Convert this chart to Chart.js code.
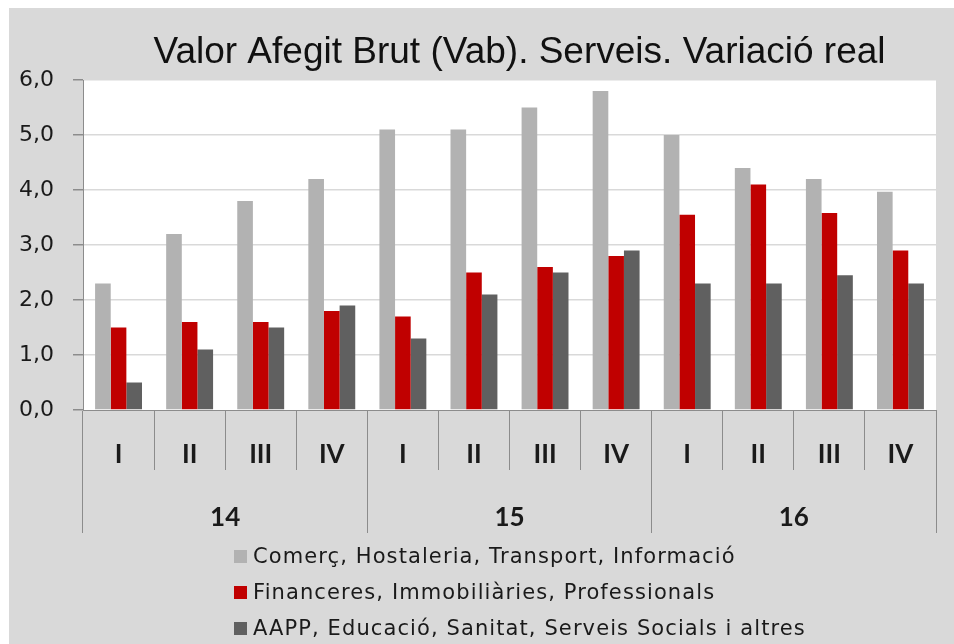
<!DOCTYPE html>
<html>
<head>
<meta charset="utf-8">
<script src="https://cdn.jsdelivr.net/npm/chart.js@4/dist/chart.umd.min.js"></script>
<style>
  html, body { margin: 0; padding: 0; background: #fff; }
  #frame {
    position: absolute; left: 9px; top: 8px; width: 945px; height: 636px;
    background: #d9d9d9; overflow: hidden;
  }
  #frame canvas { position: absolute; left: 0; top: 0; }
  #legend {
    position: absolute; left: 225px; top: 530px; margin: 0; padding: 0;
    list-style: none; font-family: "DejaVu Sans", sans-serif; font-size: 21px;
    letter-spacing: 1.1px; color: #1a1a1a;
  }
  #legend li { height: 36px; line-height: 36px; white-space: nowrap; }
  #legend span.box {
    display: inline-block; width: 13px; height: 13px; margin-right: 6px;
    vertical-align: middle; position: relative; top: -1px;
  }
</style>
</head>
<body>
<div id="frame">
  <canvas id="vab-chart" width="945" height="636"></canvas>
  <ul id="legend"></ul>
</div>
<script>
(() => {
  const chartTitle = 'Valor Afegit Brut (Vab). Serveis. Variació real';
  const quarters = ['I', 'II', 'III', 'IV', 'I', 'II', 'III', 'IV', 'I', 'II', 'III', 'IV'];
  const years = ['14', '15', '16'];

  const seriesNames = [
    'Comerç, Hostaleria, Transport, Informació',
    'Financeres, Immobiliàries, Professionals',
    'AAPP, Educació, Sanitat, Serveis Socials i altres'
  ];
  const comerc = [2.3, 3.2, 3.8, 4.2, 5.1, 5.1, 5.5, 5.8, 5.0, 4.4, 4.2, 3.97];
  const financeres = [1.5, 1.6, 1.6, 1.8, 1.7, 2.5, 2.6, 2.8, 3.55, 4.1, 3.58, 2.9];
  const aapp = [0.5, 1.1, 1.5, 1.9, 1.3, 2.1, 2.5, 2.9, 2.3, 2.3, 2.45, 2.3];
  const seriesColors = ['#b2b2b2', '#c00000', '#606060'];

  const yTicks = [0, 1, 2, 3, 4, 5, 6];

  const axisGray = '#8c8c8c';

  // white plot area + title
  const plotBackground = {
    id: 'plotBackground',
    beforeDraw: (chart) => {
      const { ctx, chartArea } = chart;
      ctx.save();
      ctx.fillStyle = '#ffffff';
      ctx.fillRect(chartArea.left, chartArea.top, chartArea.right - chartArea.left, chartArea.bottom - chartArea.top);
      ctx.restore();
    },
    afterDraw: (chart) => {
      const { ctx, chartArea } = chart;
      ctx.save();
      ctx.fillStyle = '#111111';
      ctx.font = '37px "Liberation Sans", Arial, sans-serif';
      ctx.textAlign = 'center';
      ctx.textBaseline = 'alphabetic';
      ctx.fillText(chartTitle, (chartArea.left + chartArea.right) / 2 + 10, 55);
      ctx.restore();
    }
  };

  const canvasCtx = document.getElementById('vab-chart').getContext('2d');
  const chart = new Chart(canvasCtx, {
    type: 'bar',
    data: {
      labels: quarters,
      datasets: [comerc, financeres, aapp].map((values, i) => ({
        label: seriesNames[i],
        data: values,
        backgroundColor: seriesColors[i],
        borderWidth: 0,
        categoryPercentage: 0.66,
        barPercentage: 1.0
      }))
    },
    options: {
      responsive: false,
      animation: false,
      layout: { padding: { top: 72, right: 18, bottom: 111, left: 0 } },
      plugins: {
        legend: { display: false },
        title: { display: false },
        tooltip: { enabled: false }
      },
      scales: {
        x: {
          offset: true,
          grid: {
            offset: true,
            drawOnChartArea: false,
            tickLength: 60,
            color: axisGray,
            tickColor: axisGray
          },
          border: { display: true, color: axisGray },
          ticks: {
            padding: -31,
            color: '#1a1a1a',
            font: { family: 'Lato, sans-serif', size: 26, weight: 'bold' },
            maxRotation: 0,
            autoSkip: false
          },
          afterFit: (scale) => { scale.height = 60; }
        },
        x2: {
          type: 'category',
          labels: years,
          position: 'bottom',
          offset: true,
          grid: {
            offset: true,
            drawOnChartArea: false,
            tickLength: 63,
            color: axisGray,
            tickColor: axisGray
          },
          border: { display: false },
          ticks: {
            padding: -31,
            color: '#1a1a1a',
            font: { family: 'Lato, sans-serif', size: 26, weight: 'bold' },
            maxRotation: 0
          },
          afterFit: (scale) => { scale.height = 63; }
        },
        y: {
          min: 0,
          max: 6,
          afterBuildTicks: (scale) => { scale.ticks = yTicks.map((v) => ({ value: v })); },
          grid: {
            color: (c) => (c.tick && c.tick.value === 0 ? 'rgba(0,0,0,0)' : '#d9d9d9'),
            lineWidth: 1.5,
            tickLength: 10,
            tickColor: axisGray
          },
          border: { display: true, color: axisGray },
          ticks: {
            padding: 19,
            color: '#1a1a1a',
            font: { family: '"DejaVu Sans", sans-serif', size: 22 },
            callback: (v) => v.toFixed(1).replace('.', ',')
          },
          afterFit: (scale) => { scale.width = 74; }
        }
      }
    },
    plugins: [plotBackground]
  });

  // legend built from the datasets
  const legendList = document.getElementById('legend');
  chart.data.datasets.forEach((ds) => {
    const item = document.createElement('li');
    const box = document.createElement('span');
    box.className = 'box';
    box.style.background = ds.backgroundColor;
    item.appendChild(box);
    item.appendChild(document.createTextNode(ds.label));
    legendList.appendChild(item);
  });
})();
</script>
</body>
</html>
